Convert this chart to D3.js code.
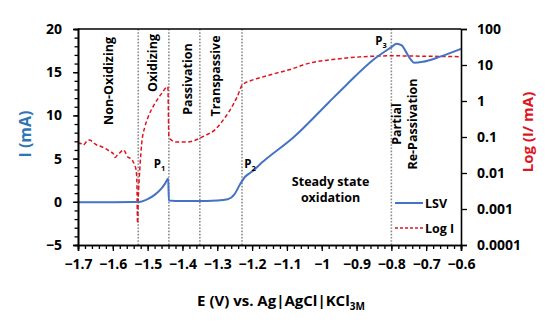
<!DOCTYPE html>
<html><head><meta charset="utf-8">
<script src="https://cdn.jsdelivr.net/npm/d3@7"></script>
<style>
html,body{margin:0;padding:0;background:#fff;}
svg text{font-family:"Open Sans","Noto Sans",sans-serif;font-weight:700;}
</style></head>
<body><svg id="c" width="557" height="324"></svg>
<script>
// ---- data ----
const xTicks = [-1.7,-1.6,-1.5,-1.4,-1.3,-1.2,-1.1,-1.0,-0.9,-0.8,-0.7,-0.6];
const yLeftTicks = [-5,0,5,10,15,20];
const yRightTicks = [0.0001,0.001,0.01,0.1,1,10,100];
const yRightLabels = ["0.0001","0.001","0.01","0.1","1","10","100"];
const lsvE = [-1.70,-1.60,-1.53,-1.52,-1.50,-1.48,-1.46,-1.45,-1.441,-1.439,-1.42,-1.36,-1.30,-1.27,-1.25,-1.235,-1.22,-1.20,-1.17,-1.08,-0.98,-0.93,-0.85,-0.80,-0.785,-0.77,-0.76,-0.745,-0.735,-0.71,-0.66,-0.60];
const lsvI = [-0.05,-0.05,-0.03,0.0,0.3,0.8,1.55,2.1,2.7,0.15,0.1,0.08,0.15,0.3,0.9,2.0,2.9,3.5,4.6,7.5,11.5,13.5,16.5,17.9,18.3,18.1,17.5,16.5,16.1,16.2,16.8,17.7];
const logE = [-1.700,-1.694,-1.685,-1.675,-1.666,-1.656,-1.646,-1.637,-1.627,-1.618,-1.608,-1.599,-1.594,-1.586,-1.579,-1.570,-1.565,-1.557,-1.551,-1.544,-1.538,-1.533,-1.531,-1.529,-1.527,-1.522,-1.517,-1.508,-1.498,-1.479,-1.460,-1.442,-1.439,-1.43,-1.421,-1.384,-1.364,-1.335,-1.307,-1.285,-1.269,-1.243,-1.228,-1.20,-1.171,-1.149,-1.077,-1.054,-0.956,-0.90,-0.80,-0.70,-0.60];
const logI = [0.063,0.067,0.060,0.075,0.083,0.070,0.060,0.056,0.051,0.046,0.039,0.035,0.027,0.032,0.037,0.044,0.039,0.028,0.026,0.023,0.017,0.012,0.0063,0.0004,0.0018,0.0149,0.067,0.19,0.37,0.86,1.6,2.5,0.10,0.08,0.073,0.073,0.081,0.11,0.158,0.28,0.46,1.3,2.8,3.8,4.6,5.3,8.3,10,14.7,16.5,18,17.5,17];
const regionLines = [-1.527,-1.439,-1.35,-1.229,-0.80];
const regionLabels = [
  {t:["Non-Oxidizing"], e:-1.612, y:81},
  {t:["Oxidizing"], e:-1.485, y:63},
  {t:["Passivation"], e:-1.385, y:79},
  {t:["Transpassive"], e:-1.305, y:76}
];

// ---- layout ----
const svg = d3.select("#c");
const L=78, R=461, T=29, B=245;
const x = d3.scaleLinear().domain([-1.7,-0.6]).range([L,R]);
const yL = d3.scaleLinear().domain([-5,20]).range([B,T]);
const yR = d3.scaleLog().domain([0.0001,100]).range([B,T]);
const blue="#4472c4", red="#e0141e", titleBlue="#2e75b6";
const FF = '"Open Sans","Noto Sans",sans-serif';

// region dotted lines
svg.append("g").selectAll("line").data(regionLines).join("line")
  .attr("x1",d=>x(d)).attr("x2",d=>x(d)).attr("y1",T).attr("y2",B)
  .attr("stroke","#8c8c8c").attr("stroke-width",1.6).attr("stroke-dasharray","1.6,1.6");

// curves
const redLine = d3.line().x((d,i)=>x(logE[i])).y(d=>yR(d)).curve(d3.curveMonotoneX);
svg.append("path").attr("d",redLine(logI)).attr("fill","none")
  .attr("stroke",red).attr("stroke-width",1.5).attr("stroke-dasharray","4,2.5");
const blueLine = d3.line().x((d,i)=>x(lsvE[i])).y(d=>yL(d)).curve(d3.curveMonotoneX);
svg.append("path").attr("d",blueLine(lsvI)).attr("fill","none")
  .attr("stroke",blue).attr("stroke-width",2);

// axes
const fs = "14px";
const gx = svg.append("g").attr("transform",`translate(0,${B})`)
  .call(d3.axisBottom(x).tickValues(d3.range(0,56).map(i=>-1.7+i*0.02)).tickSize(4).tickFormat(""));
gx.append("g").call(d3.axisBottom(x).tickValues(xTicks).tickSize(6).tickFormat(d=>d3.format("")(+d.toFixed(1))));
const gl = svg.append("g").attr("transform",`translate(${L},0)`)
  .call(d3.axisLeft(yL).tickValues(d3.range(-5,21,1)).tickSize(3.5).tickFormat(""));
gl.append("g").call(d3.axisLeft(yL).tickValues(yLeftTicks).tickSize(5).tickPadding(11));
const gr = svg.append("g").attr("transform",`translate(${R},0)`)
  .call(d3.axisRight(yR).tickValues(yRightTicks).tickSize(6).tickPadding(10).tickFormat((d,i)=>yRightLabels[i]));
svg.selectAll(".domain").attr("stroke","#000").attr("stroke-width",1.6);
svg.selectAll(".tick line").attr("stroke","#000").attr("stroke-width",1.3);
svg.selectAll(".tick text").attr("font-size",fs).attr("fill","#000")
  .style("font-family",FF).style("font-weight","700");
gx.selectAll(".tick text").attr("dy","1.05em");
svg.selectAll("g").attr("font-family",null);
// top border
svg.append("line").attr("x1",L).attr("x2",R).attr("y1",T).attr("y2",T).attr("stroke","#000").attr("stroke-width",1.6);

// region labels (rotated)
regionLabels.forEach(r=>{
  svg.append("text").attr("transform",`translate(${x(r.e)},${r.y}) rotate(-90)`)
    .attr("text-anchor","middle").attr("dy","0.35em").attr("font-size","12.5px").text(r.t[0]);
});
const pr = svg.append("text").attr("transform",`translate(${x(-0.765)},124) rotate(-90)`)
  .attr("text-anchor","middle").attr("font-size","12.5px");
pr.append("tspan").attr("x",0).attr("dy","-0.2em").text("Partial");
pr.append("tspan").attr("x",0).attr("dy","1.3em").text("Re-Passivation");

// peak labels
function pLabel(e,y,n){
  const t=svg.append("text").attr("x",x(e)).attr("y",y).attr("text-anchor","middle").attr("font-size","11.5px");
  t.append("tspan").text("P");
  t.append("tspan").attr("font-size","7.5px").attr("dy","3").text(n);
}
pLabel(-1.466,168,"1");
pLabel(-1.206,168,"2");
pLabel(-0.83,45,"3");

svg.append("text").attr("x",x(-0.9745)).attr("y",186).attr("text-anchor","middle").attr("font-size","12.5px").text("Steady state");
svg.append("text").attr("x",x(-0.9745)).attr("y",202).attr("text-anchor","middle").attr("font-size","12.5px").text("oxidation");

// legend
svg.append("line").attr("x1",395).attr("x2",423).attr("y1",203).attr("y2",203).attr("stroke",blue).attr("stroke-width",2);
svg.append("text").attr("x",425).attr("y",207.5).attr("font-size","12.5px").text("LSV");
svg.append("line").attr("x1",395).attr("x2",423).attr("y1",228).attr("y2",228).attr("stroke",red).attr("stroke-width",1.3).attr("stroke-dasharray","3,2");
svg.append("text").attr("x",425).attr("y",232.5).attr("font-size","12.5px").text("Log I");

// axis titles
svg.append("text").attr("transform","translate(25,134) rotate(-90)").attr("text-anchor","middle").attr("dy","0.35em")
  .attr("font-size","16px").attr("fill",titleBlue).text("I (mA)");
svg.append("text").attr("transform","translate(528,132) rotate(-90)").attr("text-anchor","middle").attr("dy","0.35em")
  .attr("font-size","15px").attr("fill",red).text("Log (I/ mA)");
const xt = svg.append("text").attr("x",281).attr("y",306).attr("text-anchor","middle").attr("font-size","15px").attr("fill","#000");
xt.append("tspan").text("E (V) vs. Ag|AgCl|KCl");
xt.append("tspan").attr("font-size","10px").attr("dy","4").text("3M");
</script></body></html>
